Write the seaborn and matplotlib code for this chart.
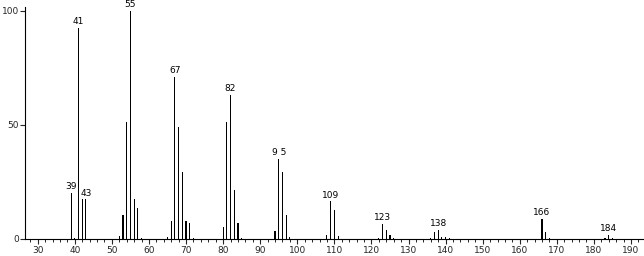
import matplotlib
matplotlib.use("Agg")
import matplotlib.pyplot as plt
import seaborn as sns
import pandas as pd
from matplotlib.ticker import MultipleLocator

mz = [39, 40, 41, 42, 43, 52, 53, 54, 55, 56, 57, 58, 65, 66, 67, 68, 69, 70, 71, 72,
      80, 81, 82, 83, 84, 85, 94, 95, 96, 97, 98, 108, 109, 110, 111, 122, 123, 124, 125, 126,
      136, 137, 138, 139, 140, 141, 166, 167, 168, 183, 184, 185]
intensity = [20.3, 0.5, 92.4, 17.4, 17.4, 1.2, 10.5, 51.4, 100, 17.6, 13.8, 0.5, 0.9, 7.8, 71.2, 49.3, 29.4, 7.8, 6.9, 0.5,
             5.3, 51.4, 63.1, 21.5, 6.9, 0.5, 3.7, 35.0, 29.4, 10.5, 0.9, 1.8, 16.5, 12.7, 1.2, 0.5, 6.7, 4.0, 1.8, 0.6,
             0.4, 2.9, 4.0, 0.9, 0.7, 0.3, 8.8, 2.9, 0.4, 0.3, 1.8, 0.5]
labeled_peaks = [39, 41, 43, 55, 67, 82, 95, 109, 123, 138, 166, 184]
peak_labels = ["39", "41", "43", "55", "67", "82", "9 5", "109", "123", "138", "166", "184"]
x_ticks = list(range(30, 191, 10))
y_ticks = [0, 50, 100]

df = pd.DataFrame({"mz": mz, "intensity": intensity})

sns.set_style("white")
plt.rcParams['font.family'] = ['DejaVu Sans']
fig = plt.figure(figsize=(6.44, 2.56), dpi=100)
ax = fig.add_axes([25 / 644, 17 / 256, 618 / 644, 232 / 256])

sns.barplot(data=df, x="mz", y="intensity", native_scale=True, width=0.3,
            color="black", saturation=1, linewidth=0, ax=ax)

lookup = dict(zip(mz, intensity))
for p, lab in zip(labeled_peaks, peak_labels):
    ax.text(p, lookup[p] + 0.8, lab, ha="center", va="bottom", fontsize=6.5, color="black")

ax.set_xlim(26.57, 193.24)
ax.set_ylim(0, 101.75)
ax.set_xticks(x_ticks)
ax.set_xticklabels([str(t) for t in x_ticks])
ax.xaxis.set_minor_locator(MultipleLocator(2))
ax.set_yticks(y_ticks)
ax.set_yticklabels([str(t) for t in y_ticks])
ax.tick_params(axis="x", which="major", length=3.5, width=0.8, direction="out", labelsize=6.5, pad=1.5, bottom=True)
ax.tick_params(axis="x", which="minor", length=2, width=0.7, direction="out", bottom=True)
ax.tick_params(axis="y", which="major", length=3.5, width=0.8, direction="out", labelsize=6.5, pad=1, left=True)
for s in ["top", "right"]:
    ax.spines[s].set_visible(False)
for s in ["left", "bottom"]:
    ax.spines[s].set_color("black")
    ax.spines[s].set_linewidth(0.8)
ax.set_xlabel("")
ax.set_ylabel("")
ax.grid(False)

fig.savefig("out.png", dpi=100)
